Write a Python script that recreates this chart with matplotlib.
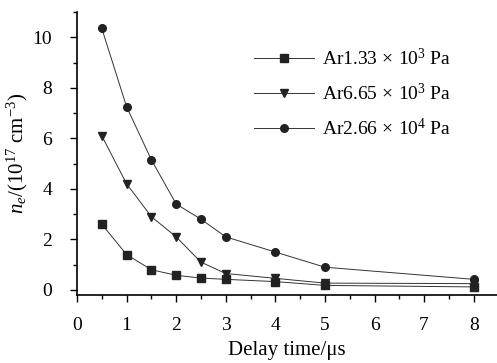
import matplotlib
matplotlib.use("Agg")
import matplotlib.pyplot as plt
from matplotlib.ticker import MultipleLocator

plt.rcParams["font.family"] = ["Liberation Serif", "DejaVu Serif"]
plt.rcParams["mathtext.fontset"] = "custom"
plt.rcParams["mathtext.rm"] = "Liberation Serif"
plt.rcParams["mathtext.it"] = "Liberation Serif:italic"

# delay time (us) and electron density (1e17 cm^-3)
delay = [0.5, 1, 1.5, 2, 2.5, 3, 4, 5, 8]
ne_133e3 = [2.6, 1.4, 0.8, 0.58, 0.47, 0.42, 0.33, 0.18, 0.12]
ne_665e3 = [6.1, 4.2, 2.9, 2.1, 1.1, 0.65, 0.46, 0.27, 0.25]
ne_266e4 = [10.35, 7.25, 5.15, 3.4, 2.8, 2.1, 1.5, 0.9, 0.42]

labels = [r"Ar1.33$\,\times\,$10$^{3}$ Pa",
          r"Ar6.65$\,\times\,$10$^{3}$ Pa",
          r"Ar2.66$\,\times\,$10$^{4}$ Pa"]
markers = ["s", "v", "o"]

fig = plt.figure(figsize=(4.97, 3.63), dpi=100)
ax = fig.add_axes([77 / 497, 1 - 295 / 363, 1 - 77 / 497, (295 - 12) / 363])

for y, m, lab in zip([ne_133e3, ne_665e3, ne_266e4], markers, labels):
    ax.plot(delay, y, color="#333333", lw=0.7, marker=m, ms=5.5,
            mfc="#222222", mec="#222222", label=lab)

ax.set_xlim(0, 8.47)
ax.set_ylim(-0.2, 11)
ax.xaxis.set_major_locator(MultipleLocator(1))
ax.xaxis.set_minor_locator(MultipleLocator(0.5))
ax.yaxis.set_major_locator(MultipleLocator(2))
ax.yaxis.set_minor_locator(MultipleLocator(1))
ax.tick_params(which="both", direction="out", labelsize=14, width=1)
ax.tick_params(which="major", length=5)
ax.tick_params(which="minor", length=3)
ax.tick_params(axis="x", pad=11)
ax.tick_params(axis="y", pad=13)
for s in ["top", "right"]:
    ax.spines[s].set_visible(False)
for s in ["left", "bottom"]:
    ax.spines[s].set_linewidth(1.2)

ax.set_xlabel("Delay time/μs", fontsize=15, labelpad=5)
ax.set_ylabel(r"$n_e$/(10$^{17}$ cm$^{-3}$)", fontsize=15, labelpad=2)

ax.legend(loc="upper left", bbox_to_anchor=(236 / 497, 1 - 30 / 363),
          bbox_transform=fig.transFigure, frameon=False,
          fontsize=14, handlelength=3.1, handletextpad=0.4, labelspacing=0.72)

fig.savefig("out.png", dpi=100)
